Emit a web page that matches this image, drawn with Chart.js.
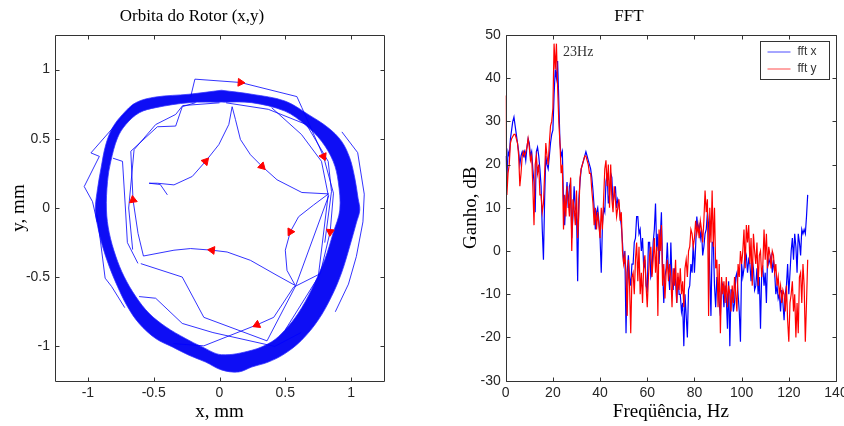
<!DOCTYPE html>
<html>
<head>
<meta charset="utf-8">
<script src="https://cdn.jsdelivr.net/npm/chart.js@4.4.0/dist/chart.umd.min.js"></script>
<style>
    html, body { margin: 0; padding: 0; background: #fff; }
    #wrap { position: relative; width: 844px; height: 426px; overflow: hidden; }
    .panel { position: absolute; top: 0; width: 422px; height: 426px; }
    #left { left: 0; }
    #right { left: 422px; }
</style>
</head>
<body>
<div id="wrap">
    <div class="panel" id="left"><canvas id="orbit" width="422" height="426"></canvas></div>
    <div class="panel" id="right"><canvas id="fft" width="422" height="426"></canvas></div>
</div>
<script>
// ---------- Orbita do Rotor (x, y em mm) ----------
const orbitTicks = [-1, -0.5, 0, 0.5, 1];

// outer / inner edge of the dense orbit band
const outerX = [0.015, 0.245, 0.497, 0.674, 0.826, 0.927, 0.99, 1.028, 1.053, 1.066, 1.04, 0.99, 0.927, 0.851, 0.75, 0.624, 0.497, 0.371, 0.245, 0.144, 0.015, -0.106, -0.232, -0.358, -0.485, -0.611, -0.699, -0.775, -0.838, -0.889, -0.926, -0.944, -0.926, -0.9, -0.864, -0.813, -0.737, -0.636, -0.485, -0.232, 0.015];
const outerY = [0.851, 0.822, 0.773, 0.676, 0.58, 0.483, 0.361, 0.216, 0.07, -0.015, -0.107, -0.276, -0.47, -0.64, -0.81, -0.955, -1.052, -1.113, -1.149, -1.185, -1.17, -1.113, -1.064, -1.004, -0.943, -0.834, -0.713, -0.567, -0.422, -0.276, -0.131, -0.015, 0.143, 0.289, 0.458, 0.58, 0.676, 0.761, 0.802, 0.822, 0.851];
const innerX = [0.015, 0.245, 0.497, 0.649, 0.775, 0.864, 0.902, 0.914, 0.864, 0.8, 0.699, 0.598, 0.497, 0.396, 0.245, 0.015, -0.131, -0.258, -0.409, -0.535, -0.636, -0.725, -0.788, -0.838, -0.859, -0.851, -0.826, -0.775, -0.712, -0.61, -0.485, -0.232, 0.015];
const innerY = [0.765, 0.761, 0.7, 0.603, 0.483, 0.337, 0.192, -0.015, -0.179, -0.373, -0.591, -0.761, -0.882, -0.967, -1.028, -1.06, -1.004, -0.943, -0.858, -0.761, -0.64, -0.495, -0.349, -0.179, -0.015, 0.192, 0.337, 0.506, 0.603, 0.688, 0.725, 0.761, 0.765];

// start-up transient (star shaped path)
const startX = [-0.396, -0.45, -0.535, -0.472, -0.346, -0.207, -0.106, -0.005, 0.071, 0.096, 0.121, 0.159, 0.235, 0.323, 0.437, 0.626, 0.828, 0.715, 0.601, 0.538, 0.5, 0.513, 0.576, 0.437, 0.235, 0.058, -0.056, -0.22, -0.346, -0.578, -0.619, -0.657, -0.674, -0.472, -0.333, -0.283, -0.182];
const startY = [0.095, 0.17, 0.179, 0.179, 0.167, 0.228, 0.337, 0.458, 0.604, 0.732, 0.64, 0.495, 0.385, 0.301, 0.204, 0.112, 0.102, 0.022, -0.063, -0.172, -0.305, -0.451, -0.56, -0.487, -0.378, -0.318, -0.305, -0.293, -0.305, -0.347, -0.184, 0.058, 0.41, 0.587, 0.592, 0.732, 0.761];

// first loose loop (top excursion, right and bottom chords)
const loopX = [-0.22, -0.187, 0.159, 0.588, 0.626, 0.79, 0.866, 0.841, 0.765, 0.563, 0.412, 0.285, -0.119, -0.35];
const loopY = [0.8, 0.931, 0.907, 0.805, 0.725, 0.373, 0.107, -0.172, -0.475, -0.572, -0.79, -0.844, -0.996, -0.98];

// other loose passes
const chordAX = [-0.598, -0.283, -0.119, 0.361, 0.58, 0.83];
const chordAY = [-0.402, -0.499, -0.79, -0.96, -0.56, 0.09];
const chordBX = [-0.611, -0.485, -0.283, -0.05, 0.42, 0.62];
const chordBY = [-0.64, -0.652, -0.834, -0.9, -1.0, -0.9];
const chordCX = [0.05, 0.371, 0.661, 0.826, 0.851, 0.80];
const chordCY = [0.76, 0.713, 0.603, 0.337, 0.12, -0.25];
const chordDX = [0.0, -0.28, -0.333, -0.485, -0.649, -0.69, -0.66];
const chordDY = [0.76, 0.74, 0.676, 0.603, 0.422, 0.0, -0.3];
const chordEX = [-0.81, -0.737, -0.715, -0.7, -0.62];
const chordEY = [0.36, 0.337, 0.0, -0.25, -0.4];
const chordFX = [0.396, 0.623, 0.775, 0.826, 0.75, 0.5];
const chordFY = [0.725, 0.531, 0.337, 0.094, -0.5, -0.88];
const leftOutX = [-0.649, -0.977, -0.913, -1.028, -0.965, -0.93];
const leftOutY = [0.754, 0.398, 0.373, 0.155, 0.046, -0.1];
const leftOut2X = [-0.93, -0.869, -0.82, -0.72];
const leftOut2Y = [-0.05, -0.507, -0.567, -0.72];
const rightOutX = [0.93, 1.05, 1.10, 1.09, 1.04, 0.98, 0.88];
const rightOutY = [0.55, 0.40, 0.10, -0.10, -0.35, -0.55, -0.75];

// red direction arrows (indices into the paths above)
const arrowsOnStart = [6, 13, 19, 26, 31];
const arrowsOnLoop = [2, 5, 7, 11];

// ---------- FFT ----------
const freqStep = 0.5; // Hz between bins
const fftXTicks = [0, 20, 40, 60, 80, 100, 120, 140];
const fftYTicks = [-30, -20, -10, 0, 10, 20, 30, 40, 50];
const fftX = [
    22, 17, 23, 22, 26, 28, 30, 31, 29, 27, 25, 23, 20, 22, 23, 22, 23, 21, 24, 26,
    25, 22, 23, 19, 16, 9, 23, 24, 22, 19, 15, 5, -2, 12, 22, 20, 19, 22, 25, 27,
    28, 36, 42, 40, 44, 35, 25, 22, 23, 12, 6, 12, 16, 10, 15, 16, 3, 8, 15, 10,
    9, -7, 12, 16, 19, 20, 21, 22, 23, 22, 21, 20, 19, 17, 14, 10, 5, 9, 10, 7,
    3, -5, 6, 10, 9, 16, 18, 11, 13, 18, 17, 11, 13, 15, 10, 12, 11, 8, 6, 2,
    -3, 0, -19, -5, -1, -6, -8, -3, -3, 2, 3, 8, 8, 4, 5, 0, 3, -4, -2, -8,
    -9, 2, 2, -6, -5, 2, 5, 11, 0, 4, -3, 3, 9, -4, -12, -6, -4, 2, -5, -9,
    2, -7, -9, -4, -7, -12, -6, -10, -10, -14, -12, -22, -10, -15, -20, -9, -8, -3, -5, 2,
    -5, 1, 8, 5, 6, 3, 5, -1, 1, 4, 5, 9, 6, -5, -15, 2, 2, -8, -13, -6,
    -8, -12, -15, -7, -8, -13, -8, -11, -18, -7, -22, -9, -9, -14, -12, -6, -5, -10, -14, -21,
    -3, -6, -4, 0, -1, -5, -2, -3, -7, -2, -4, -9, -8, -4, -10, -6, -18, -5, -4, -8,
    -5, -12, -1, -3, -2, -1, -5, -2, -5, -10, -8, -11, -10, -14, -9, -12, -16, -10, -8, -3,
    -10, -5, 0, 3, -2, 4, 1, -5, 4, 2, -1, 5, 4, 5, 4, 8, 13
];
const fftY = [
    36, 13, 18, 20, 25, 26, 26.5, 27, 27, 26, 25, 22, 15, 18, 22, 23, 22, 23, 24, 26,
    24, 21, 22, 15, 6, 20, 22, 18, 20, 13, 13, 9, 11, 18, 25, 22, 20, 25, 29, 30,
    33, 48, 42, 48, 38, 30, 25, 18, 20, 5, 13, 8, 15, 12, 8, 17, 0, 12, 10, 6,
    14, 3, 9, 17, 19, 20, 21, 22, 22, 21, 20, 18, 18, 14, 11, 6, 10, 5, 9, 6,
    3, 10, 5, 12, 19, 21, 15, 20, 10, 20, 12, 9, 15, 12, 8, 10, 12, 7, 9, 0,
    -3, -1, -5, -15, -2, -8, -19, -6, -5, -10, -2, 2, -7, 1, -10, -5, -12, -3, -1, -8,
    -13, -6, -1, 1, -6, -2, 3, -5, 1, -15, 5, 0, 6, -8, -3, -11, -5, -2, -7, -3,
    -6, -13, -4, -8, -2, -12, -5, -9, -4, -10, -7, -13, -4, -2, -6, 0, 1, 5, 4, 1,
    3, 7, 4, 6, 3, 7, 5, 2, 7, 14, 9, 12, -15, 10, 2, 14, 1, 10, -4, -2,
    -13, -3, -19, -6, -10, -7, -12, -6, -13, -8, -10, -14, -8, -12, -6, -10, -14, -3, -6, 0,
    -3, 0, 5, -4, 6, 2, 6, -3, 3, -8, 4, 0, -3, 2, -8, -1, 0, -6, -3, 5,
    -2, 4, -4, 1, -1, -4, 0, -1, -5, -3, -8, -6, -10, -8, -12, -9, -10, -14, -8, -16,
    -21, -12, -10, -7, -14, -10, -20, -12, -19, -6, -5, -12, -3, -8, -21, -12, -2
];
const peakNote = { freq: 24.3, gain: 45.9, text: '23Hz' };

// ---------- helpers / plugins ----------
const SERIF = 'Liberation Serif';
const SANS = 'Liberation Sans';
const TICK = 4;

const pts = (xs, ys) => xs.map((x, i) => ({ x: x, y: ys[i] }));

// matlab style box with inward ticks on all four sides
const boxFrame = {
    id: 'boxFrame',
    afterDatasetsDraw(chart) {
        const { ctx, chartArea: a, scales } = chart;
        const l = Math.round(a.left) + 0.5, r = Math.round(a.right) + 0.5;
        const t = Math.round(a.top) + 0.5, b = Math.round(a.bottom) + 0.5;
        ctx.save();
        ctx.strokeStyle = '#333';
        ctx.lineWidth = 1;
        ctx.beginPath();
        ctx.rect(l, t, r - l, b - t);
        scales.x.ticks.forEach(tk => {
            const px = Math.round(scales.x.getPixelForValue(tk.value)) + 0.5;
            ctx.moveTo(px, b); ctx.lineTo(px, b - TICK);
            ctx.moveTo(px, t); ctx.lineTo(px, t + TICK);
        });
        scales.y.ticks.forEach(tk => {
            const py = Math.round(scales.y.getPixelForValue(tk.value)) + 0.5;
            ctx.moveTo(l, py); ctx.lineTo(l + TICK, py);
            ctx.moveTo(r, py); ctx.lineTo(r - TICK, py);
        });
        ctx.stroke();
        ctx.restore();
    }
};

// fills the area between the datasets flagged with ring:true (even-odd)
const ringFill = {
    id: 'ringFill',
    beforeDatasetsDraw(chart) {
        const { ctx, chartArea: a } = chart;
        ctx.save();
        ctx.beginPath();
        ctx.rect(a.left, a.top, a.right - a.left, a.bottom - a.top);
        ctx.clip();
        ctx.beginPath();
        chart.data.datasets.forEach((ds, i) => {
            if (!ds.ring) return;
            const line = chart.getDatasetMeta(i).dataset;
            try {
                line.updateControlPoints(a, 'x');
                line.path(ctx);
            } catch (e) {
                line.points.forEach((p, j) => (j ? ctx.lineTo(p.x, p.y) : ctx.moveTo(p.x, p.y)));
            }
            ctx.closePath();
        });
        ctx.fillStyle = 'rgb(14, 14, 245)';
        ctx.fill('evenodd');
        ctx.restore();
    }
};

const insideLegend = {
    id: 'insideLegend',
    afterDatasetsDraw(chart) {
        const { ctx, chartArea: a } = chart;
        const w = 69, h = 38;
        const x0 = Math.round(a.right - 7 - w) + 0.5, y0 = Math.round(a.top + 6) + 0.5;
        ctx.save();
        ctx.fillStyle = '#fff';
        ctx.fillRect(x0, y0, w, h);
        ctx.strokeStyle = '#333';
        ctx.lineWidth = 1;
        ctx.strokeRect(x0, y0, w, h);
        ctx.font = '12px ' + SANS;
        ctx.textBaseline = 'middle';
        chart.data.datasets.forEach((ds, i) => {
            const ly = y0 + 10.5 + i * 17;
            ctx.strokeStyle = ds.borderColor;
            ctx.globalAlpha = 0.7;
            ctx.beginPath();
            ctx.moveTo(x0 + 7, ly); ctx.lineTo(x0 + 30, ly);
            ctx.stroke();
            ctx.globalAlpha = 1;
            ctx.fillStyle = '#333';
            ctx.fillText(ds.label, x0 + 37, ly);
        });
        ctx.restore();
    }
};

const peakLabel = {
    id: 'peakLabel',
    afterDatasetsDraw(chart) {
        const { ctx, scales } = chart;
        ctx.save();
        ctx.font = '14px ' + SERIF;
        ctx.fillStyle = '#333';
        ctx.textBaseline = 'middle';
        ctx.fillText(peakNote.text, scales.x.getPixelForValue(peakNote.freq), scales.y.getPixelForValue(peakNote.gain));
        ctx.restore();
    }
};

function axis(min, max, ticks, title, isX, fitSize, titlePad) {
    return {
        type: 'linear',
        min: min,
        max: max,
        afterBuildTicks: (s) => { s.ticks = ticks.map(v => ({ value: v })); },
        afterFit: (s) => {
            if (isX) { s.height = fitSize; s.paddingLeft = 0; s.paddingRight = 0; }
            else { s.width = fitSize; s.paddingTop = 0; s.paddingBottom = 0; }
        },
        grid: { display: false, drawTicks: false },
        border: { display: false },
        ticks: {
            padding: isX ? 4 : 5,
            color: '#262626',
            font: { family: SANS, size: 14 },
            callback: (v) => String(v)
        },
        title: {
            display: true,
            text: title,
            color: '#000',
            font: { family: SERIF, size: 19 },
            padding: titlePad
        }
    };
}

function chartTitle(text) {
    return {
        display: true,
        text: text,
        color: '#000',
        font: { family: SERIF, size: 17, weight: 'normal' },
        padding: { top: 6, bottom: 8.6 }
    };
}

// ---------- orbit chart ----------
const thin = (data) => ({
    data: data,
    showLine: true,
    borderColor: 'rgba(0, 0, 255, 0.8)',
    borderWidth: 1,
    pointRadius: 0,
    order: 1
});

const ring = (data) => Object.assign(thin(data), {
    ring: true,
    order: 2,
    tension: 0.35,
    borderColor: 'rgba(50, 50, 255, 0.75)'
});

const arrowPts = arrowsOnStart.map(i => ({ x: startX[i], y: startY[i], fx: startX[i - 1], fy: startY[i - 1] }))
    .concat(arrowsOnLoop.map(i => ({ x: loopX[i], y: loopY[i], fx: loopX[i - 1], fy: loopY[i - 1] })));

new Chart(document.getElementById('orbit'), {
    type: 'scatter',
    data: {
        datasets: [
            {
                data: arrowPts,
                pointStyle: 'triangle',
                pointRadius: 4.5,
                backgroundColor: '#ff0000',
                borderColor: '#ff0000',
                borderWidth: 1,
                pointRotation: (c) => {
                    const p = c.raw;
                    if (!p) return 0;
                    const { x, y } = c.chart.scales;
                    const dx = x.getPixelForValue(p.x) - x.getPixelForValue(p.fx);
                    const dy = y.getPixelForValue(p.y) - y.getPixelForValue(p.fy);
                    return Math.atan2(dx, -dy) * 180 / Math.PI;
                },
                order: 0
            },
            thin(pts(startX, startY)),
            thin(pts(loopX, loopY)),
            thin(pts(chordAX, chordAY)),
            thin(pts(chordBX, chordBY)),
            thin(pts(chordCX, chordCY)),
            thin(pts(chordDX, chordDY)),
            thin(pts(chordEX, chordEY)),
            thin(pts(chordFX, chordFY)),
            thin(pts(leftOutX, leftOutY)),
            thin(pts(leftOut2X, leftOut2Y)),
            thin(pts(rightOutX, rightOutY)),
            ring(pts(outerX, outerY)),
            ring(pts(innerX, innerY))
        ]
    },
    options: {
        responsive: false,
        animation: false,
        layout: { padding: { left: 0, right: 38, top: 0, bottom: 0 } },
        plugins: {
            legend: { display: false },
            tooltip: { enabled: false },
            title: chartTitle('Orbita do Rotor (x,y)')
        },
        scales: {
            x: axis(-1.25, 1.25, orbitTicks, 'x, mm', true, 45, { top: 0, bottom: 3 }),
            y: axis(-1.25, 1.25, orbitTicks, 'y, mm', false, 55, { top: 7.6, bottom: 0 })
        }
    },
    plugins: [ringFill, boxFrame]
});

// ---------- FFT chart ----------
const freqs = fftX.map((_, i) => i * freqStep);

new Chart(document.getElementById('fft'), {
    type: 'line',
    data: {
        datasets: [
            {
                label: 'fft x',
                data: fftX.map((v, i) => ({ x: freqs[i], y: v })),
                borderColor: '#0000ff',
                borderWidth: 1.2,
                pointRadius: 0,
                tension: 0,
                order: 2
            },
            {
                label: 'fft y',
                data: fftY.map((v, i) => ({ x: freqs[i], y: v })),
                borderColor: '#ff0000',
                borderWidth: 1.2,
                pointRadius: 0,
                tension: 0,
                order: 1
            }
        ]
    },
    options: {
        responsive: false,
        animation: false,
        layout: { padding: { left: 0, right: 8, top: 0, bottom: 0 } },
        plugins: {
            legend: { display: false },
            tooltip: { enabled: false },
            title: chartTitle('FFT')
        },
        scales: {
            x: axis(0, 140, fftXTicks, 'Freqüência, Hz', true, 45.3, { top: 0, bottom: 3 }),
            y: axis(-30, 50, fftYTicks, 'Ganho, dB', false, 83.7, { top: 38, bottom: 0 })
        }
    },
    plugins: [boxFrame, insideLegend, peakLabel]
});
</script>
</body>
</html>
